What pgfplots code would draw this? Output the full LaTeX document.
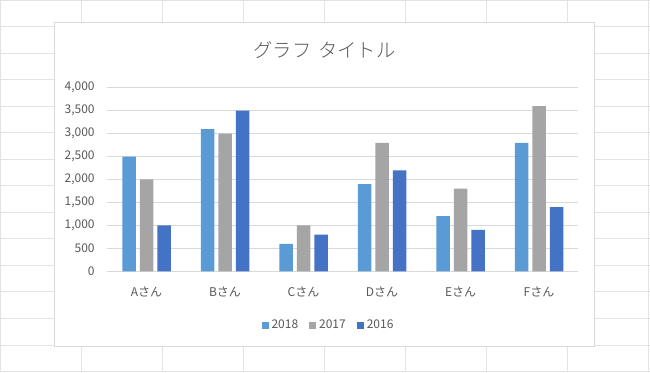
\documentclass[border=0pt]{standalone}
\usepackage{fontspec}
\setmainfont{Noto Sans CJK JP}
\newfontfamily\titlefont{Noto Sans CJK JP Light}
\usepackage{pgfplots}
\pgfplotsset{compat=1.18}
\definecolor{c18}{HTML}{5B9BD5}
\definecolor{c17}{HTML}{A5A5A5}
\definecolor{c16}{HTML}{4472C4}
\definecolor{txt}{HTML}{595959}
\definecolor{grd}{HTML}{D9D9D9}
\definecolor{cell}{HTML}{E3E3E3}
\begin{document}
\begin{tikzpicture}[x=1pt,y=1pt]
\useasboundingbox (0,0) rectangle (650,372);
\fill[white] (0,0) rectangle (650,372);
\foreach \i in {0,...,8} \draw[cell, line width=1pt] (0.7+81*\i,0) -- (0.7+81*\i,372);
\foreach \j in {0,...,14} \draw[cell, line width=1pt] (0,371.5-26.5*\j) -- (650,371.5-26.5*\j);
\filldraw[fill=white, draw=grd, line width=1pt] (54,26) rectangle (594.5,349);
\node[text=txt, font=\titlefont\fontsize{19.3}{22}\selectfont] at (324.5,322) {グラフ\hspace{7pt}タイトル};
\begin{axis}[
  at={(107.3pt,100.7pt)}, anchor=south west,
  scale only axis, width=471pt, height=183.6pt,
  ybar=4pt, bar width=13.5pt,
  ymin=0, ymax=4000, xmin=-0.5, xmax=5.5,
  xtick={0,1,2,3,4,5},
  xticklabels={Aさん,Bさん,Cさん,Dさん,Eさん,Fさん},
  ytick={0,500,...,4000},
  scaled y ticks=false,
  ymajorgrids, grid style={grd, line width=1pt},
  axis line style={draw=none},
  major tick length=0pt,
  tick label style={text=txt, font=\fontsize{12}{14}\selectfont},
  /pgf/number format/1000 sep={,},
  /pgf/number format/assume math mode=true,
  yticklabel style={anchor=east, inner sep=0pt, xshift=-12.5pt},
  xticklabel style={anchor=center, inner sep=0pt, yshift=-20.7pt},
  legend image code/.code={\fill[#1] (0pt,-3.5pt) rectangle (7pt,3.5pt);},
  legend style={at={(rel axis cs:0.4675,-0.2925)}, anchor=center,
    draw=none, fill=none, inner sep=0pt, outer sep=0pt,
    font=\fontsize{12}{14}\selectfont, text=txt,
    nodes={inner sep=0pt},
    /tikz/every odd column/.append style={column sep=3pt},
    /tikz/every even column/.append style={column sep=11pt}},
  legend columns=-1,
]
\addplot[fill=c18, draw=none] coordinates {(0,2500) (1,3100) (2,600) (3,1900) (4,1200) (5,2800)};
\addplot[fill=c17, draw=none] coordinates {(0,2000) (1,3000) (2,1000) (3,2800) (4,1800) (5,3600)};
\addplot[fill=c16, draw=none] coordinates {(0,1000) (1,3500) (2,800) (3,2200) (4,900) (5,1400)};
\legend{2018,2017,2016}
\end{axis}
\end{tikzpicture}
\end{document}
